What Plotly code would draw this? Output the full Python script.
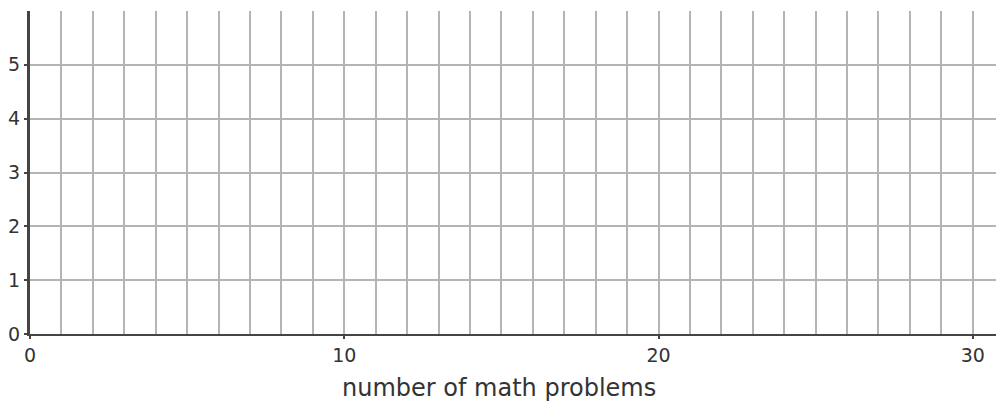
import plotly.graph_objects as go

# Axis definitions (empty grid chart)
x_range = [0, 30.74]
y_range = [0, 6]
x_tick_vals = [0, 10, 20, 30]
x_tick_text = ["0", "10", "20", "30"]
y_tick_vals = [0, 1, 2, 3, 4, 5]
y_tick_text = ["0", "1", "2", "3", "4", "5"]
x_title = "number of math problems"

W, H = 996, 402
ml, mr, mt, mb = 30, 0, 11, 68

fig = go.Figure()
fig.add_trace(go.Scatter(x=[], y=[], mode="markers", showlegend=False))

grid_col = "#b4b4b4"
axis_col = "#444444"
font_fam = "DejaVu Sans, sans-serif"

fig.update_layout(
    width=W, height=H,
    margin=dict(l=ml, r=mr, t=mt, b=mb, pad=0, autoexpand=False),
    paper_bgcolor="white", plot_bgcolor="white",
    showlegend=False,
    xaxis=dict(
        range=x_range, tickvals=x_tick_vals, ticktext=x_tick_text,
        automargin=False,
        showgrid=True, gridcolor=grid_col, gridwidth=1.5,
        zeroline=False, showline=True, linecolor=axis_col, linewidth=2,
        ticks="outside", ticklen=3, tickcolor=axis_col, tickwidth=1.5,
        tickfont=dict(family=font_fam, size=19, color="#333333"),
        minor=dict(dtick=1, tick0=0, showgrid=True, gridcolor=grid_col, gridwidth=1.5, ticks=""),
        fixedrange=True,
    ),
    yaxis=dict(
        range=y_range, tickvals=y_tick_vals, ticktext=y_tick_text,
        automargin=False,
        showgrid=True, gridcolor=grid_col, gridwidth=1.5,
        zeroline=False, showline=True, linecolor=axis_col, linewidth=3,
        ticks="outside", ticklen=3, tickcolor=axis_col, tickwidth=1.5,
        tickfont=dict(family=font_fam, size=19, color="#333333"),
        minor=dict(dtick=1, tick0=0, showgrid=True, gridcolor=grid_col, gridwidth=1.5, ticks=""),
        fixedrange=True,
    ),
)

plot_w = W - ml - mr
plot_h = H - mt - mb
title_cx = 498.5
title_cy = 388
fig.add_annotation(
    text=x_title, showarrow=False,
    xref="paper", yref="paper",
    x=(title_cx - ml) / plot_w, y=-(title_cy - (H - mb)) / plot_h,
    xanchor="center", yanchor="middle",
    font=dict(family=font_fam, size=24, color="#333333"),
)

fig.write_html(
    "out.html",
    config={"displayModeBar": False},
    post_script="document.body.style.margin='0';document.body.style.overflow='hidden';",
)
